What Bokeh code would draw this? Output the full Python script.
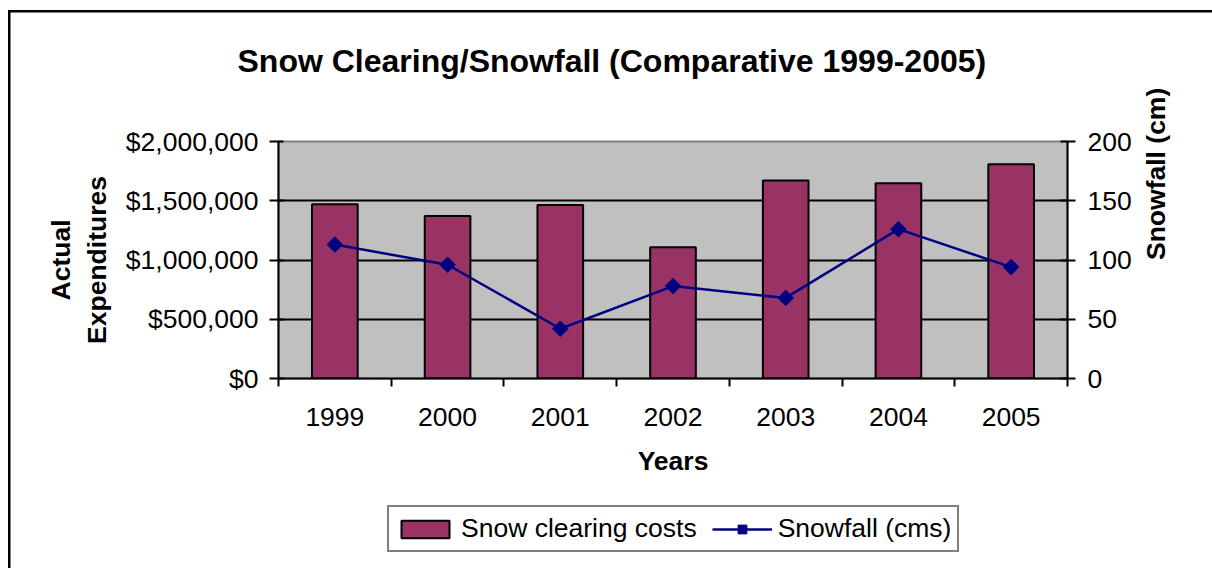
from bokeh.plotting import figure
from bokeh.layouts import column
from bokeh.models import (Range1d, LinearAxis, FixedTicker, NumeralTickFormatter,
                          Legend, LegendItem, ColumnDataSource, Title)
from bokeh.embed import file_html
from bokeh.resources import INLINE
import numpy as np

# ---- data ----
years = ["1999", "2000", "2001", "2002", "2003", "2004", "2005"]
costs = [1470000, 1372000, 1465000, 1108000, 1671000, 1648000, 1808000]
snowfall = [113, 96, 42, 78, 68, 126, 94]
cost_ticks = [0, 500000, 1000000, 1500000, 2000000]
snow_ticks = [0, 50, 100, 150, 200]
series_names = ["Snow clearing costs", "Snowfall (cms)"]

FONT = "Liberation Sans"
BAR_COLOR = "#993366"
LINE_COLOR = "#000080"
centers = [i + 0.5 for i in range(len(years))]
src = ColumnDataSource(dict(x=centers, cost=costs, snow=snowfall, year=years))

W, H1, H2 = 1212, 490, 78
p = figure(width=W, height=H1, output_backend="svg", toolbar_location=None,
           x_range=Range1d(0, len(years)), y_range=Range1d(0, 2000000),
           min_border_left=278, min_border_right=145, min_border_top=141,
           min_border_bottom=112,
           background_fill_color="#C0C0C0", border_fill_alpha=0,
           outline_line_color="#808080", outline_line_width=2, title=None)
p.extra_y_ranges = {"snow": Range1d(0, 200)}

# spacer title (keeps the real title away from the plot area) + real title
p.add_layout(Title(text=" ", text_font_size="10px", standoff=50), "above")
p.add_layout(Title(text="Snow Clearing/Snowfall (Comparative 1999-2005)",
                   align="left", offset=-41, standoff=0,
                   text_font=FONT, text_font_size="32px",
                   text_font_style="bold", text_color="black"), "above")

# grids
p.xgrid.visible = False
p.ygrid.ticker = FixedTicker(ticks=cost_ticks[1:-1])
p.ygrid.grid_line_color = "black"
p.ygrid.grid_line_width = 2

def style_axis(ax):
    ax.axis_line_color = "black"
    ax.axis_line_width = 2
    ax.major_tick_line_color = "black"
    ax.major_tick_line_width = 2
    ax.minor_tick_line_color = "black"
    ax.minor_tick_line_width = 2
    ax.major_label_text_font = FONT
    ax.major_label_text_font_size = "26.5px"
    ax.major_label_text_color = "black"
    ax.axis_label_text_font = FONT
    ax.axis_label_text_font_size = "26.5px"
    ax.axis_label_text_font_style = "bold"
    ax.axis_label_text_color = "black"

# x axis
xa = p.xaxis[0]
style_axis(xa)
xa.ticker = FixedTicker(ticks=centers, minor_ticks=list(range(len(years) + 1)))
xa.major_label_overrides = {c: y for c, y in zip(centers, years)}
xa.major_tick_out = 0
xa.major_tick_in = 0
xa.minor_tick_out = 8
xa.minor_tick_in = 0
xa.major_label_standoff = 21
xa.axis_label = "Years"
xa.axis_label_standoff = 17

# left axis
ya = p.yaxis[0]
style_axis(ya)
ya.ticker = FixedTicker(ticks=cost_ticks)
ya.formatter = NumeralTickFormatter(format="$0,0")
ya.major_tick_out = 9
ya.major_tick_in = 5
ya.minor_tick_out = 0
ya.minor_tick_in = 0
ya.major_label_standoff = 11
ya.axis_label = "Actual\nExpenditures"
ya.axis_label_standoff = 11

# right axis
ra = LinearAxis(y_range_name="snow", ticker=FixedTicker(ticks=snow_ticks),
                axis_label="Snowfall (cm)")
style_axis(ra)
ra.major_tick_out = 8
ra.major_tick_in = 7
ra.minor_tick_out = 0
ra.minor_tick_in = 0
ra.major_label_standoff = 12
ra.axis_label_standoff = 21
ra.axis_label_orientation = np.pi / 2
p.add_layout(ra, "right")

# glyphs
bar_style = dict(fill_color=BAR_COLOR, line_color="black", line_width=2)
line_style = dict(line_color=LINE_COLOR, line_width=2.5)
mark_style = dict(marker="square", angle=np.pi / 4, size=11,
                  fill_color=LINE_COLOR, line_color=LINE_COLOR)

p.vbar(x="x", top="cost", width=0.405, source=src, **bar_style)
p.line(x="x", y="snow", source=src, y_range_name="snow", **line_style)
p.scatter(x="x", y="snow", source=src, y_range_name="snow", **mark_style)

# legend strip: its own figure (frame aligned with the chart above).  The
# series are repeated there only as legend keys; the ranges squeeze them into
# the area that the opaque legend box covers.
lf = figure(width=W, height=H2, output_backend="svg", toolbar_location=None,
            x_range=Range1d(-20, 27), y_range=Range1d(-2140000, 3420000),
            x_axis_type=None, y_axis_type=None, min_border=0,
            outline_line_color=None, background_fill_alpha=0,
            border_fill_alpha=0)
lf.xgrid.visible = False
lf.ygrid.visible = False
lb = lf.vbar(x="x", top="cost", width=0.405, source=src, **bar_style)
ll = lf.line(x="x", y="snow", source=src, **line_style)
lm = lf.scatter(x="x", y="snow", source=src, **mark_style)

legend = Legend(items=[LegendItem(label=series_names[0], renderers=[lb]),
                       LegendItem(label=series_names[1], renderers=[ll, lm])],
                orientation="horizontal", location=(109, 16),
                label_text_font=FONT, label_text_font_size="26.5px",
                label_text_color="black",
                glyph_width=60, glyph_height=22, label_standoff=6,
                spacing=15, padding=6, margin=0,
                border_line_color="black", border_line_width=2,
                background_fill_color="white", background_fill_alpha=1)
lf.add_layout(legend, "center")

layout = column(p, lf, spacing=0)
# outer chart border: left and top edges, drawn as the page background
layout.styles = {
    "background": ("linear-gradient(#000,#000) 8px 10px / 2.5px 100% no-repeat, "
                   "linear-gradient(#000,#000) 8px 10px / 100% 2.5px no-repeat, "
                   "#ffffff"),
}

open("out.html", "w").write(file_html(layout, INLINE))
